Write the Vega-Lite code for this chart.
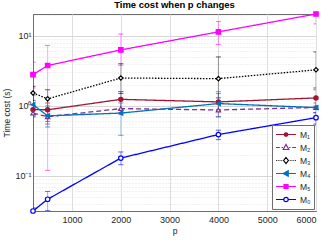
{
  "$schema": "https://vega.github.io/schema/vega-lite/v6.json",
  "width": 283,
  "height": 197,
  "autosize": {"type": "none"},
  "padding": {"left": 33, "top": 14, "right": 14, "bottom": 37},
  "background": "white",
  "title": {"text": "Time cost when p changes", "font": "Liberation Sans", "fontSize": 9.5, "fontWeight": "bold", "color": "#000000", "offset": 0},
  "config": {
    "view": {"stroke": "#6e6e6e", "strokeWidth": 1},
    "axis": {"labelFont": "Liberation Sans", "labelFontSize": 9, "labelColor": "#262626", "titleFont": "Liberation Sans", "titleFontSize": 8.5, "titleFontWeight": "normal", "titleColor": "#262626", "domainColor": "#6e6e6e", "gridColor": "#dedede", "ticks": false},
    "legend": {
      "orient": "bottom-right", "offset": 2,
      "strokeColor": "#6e6e6e", "fillColor": "white", "padding": 3,
      "clipHeight": 13, "rowPadding": 0, "symbolSize": 400, "symbolStrokeWidth": 1.2,
      "labelFont": "Liberation Sans", "labelFontSize": 8.5, "labelColor": "#262626", "labelOffset": 3
    }
  },
  "data": {"values": [
    {"m": "M₁", "p": 200, "t": 0.885, "lo": 0.75, "hi": 1.0},
    {"m": "M₁", "p": 500, "t": 0.88, "lo": 0.6, "hi": 1.1},
    {"m": "M₁", "p": 2000, "t": 1.24, "lo": 0.9, "hi": 1.6},
    {"m": "M₁", "p": 4000, "t": 1.14, "lo": 0.85, "hi": 1.5},
    {"m": "M₁", "p": 6000, "t": 1.3, "lo": 1.0, "hi": 1.7},
    {"m": "M₂", "p": 200, "t": 0.79, "lo": 0.7, "hi": 0.9},
    {"m": "M₂", "p": 500, "t": 0.7, "lo": 0.55, "hi": 0.85},
    {"m": "M₂", "p": 2000, "t": 0.915, "lo": 0.75, "hi": 1.1},
    {"m": "M₂", "p": 4000, "t": 0.875, "lo": 0.7, "hi": 1.05},
    {"m": "M₂", "p": 6000, "t": 0.95, "lo": 0.8, "hi": 1.1},
    {"m": "M₃", "p": 200, "t": 1.53, "lo": 1.2, "hi": 1.9},
    {"m": "M₃", "p": 500, "t": 1.26, "lo": 0.9, "hi": 1.7},
    {"m": "M₃", "p": 2000, "t": 2.5, "lo": 1.5, "hi": 4.0},
    {"m": "M₃", "p": 4000, "t": 2.45, "lo": 1.3, "hi": 5.0},
    {"m": "M₃", "p": 6000, "t": 3.27, "lo": 1.8, "hi": 5.9},
    {"m": "M₄", "p": 200, "t": 1.04, "lo": 0.7, "hi": 1.4},
    {"m": "M₄", "p": 500, "t": 0.72, "lo": 0.5, "hi": 1.0},
    {"m": "M₄", "p": 2000, "t": 0.79, "lo": 0.38, "hi": 1.6},
    {"m": "M₄", "p": 4000, "t": 1.08, "lo": 0.7, "hi": 1.6},
    {"m": "M₄", "p": 6000, "t": 0.945, "lo": 0.53, "hi": 1.3},
    {"m": "M₅", "p": 200, "t": 2.8, "lo": 1.8, "hi": 4.2},
    {"m": "M₅", "p": 500, "t": 3.77, "lo": 0.12, "hi": 7.3},
    {"m": "M₅", "p": 2000, "t": 6.3, "lo": 3.8, "hi": 10.6},
    {"m": "M₅", "p": 4000, "t": 11.4, "lo": 7.5, "hi": 16},
    {"m": "M₅", "p": 6000, "t": 20.5, "lo": 14.8, "hi": 28},
    {"m": "M₀", "p": 200, "t": 0.0316, "lo": 0.03, "hi": 0.035},
    {"m": "M₀", "p": 500, "t": 0.0465, "lo": 0.032, "hi": 0.06},
    {"m": "M₀", "p": 2000, "t": 0.18, "lo": 0.145, "hi": 0.22},
    {"m": "M₀", "p": 4000, "t": 0.39, "lo": 0.33, "hi": 0.45},
    {"m": "M₀", "p": 6000, "t": 0.68, "lo": 0.55, "hi": 0.8}
  ]},
  "resolve": {"axis": {"y": "independent"}},
  "layer": [
    {
      "mark": {"type": "rule", "clip": true, "opacity": 0.35, "strokeWidth": 1},
      "encoding": {
        "x": {"field": "p", "type": "quantitative", "scale": {"domain": [200, 6000], "nice": false, "zero": false}, "axis": {"title": "p", "values": [1000, 2000, 3000, 4000, 5000, 6000], "format": "d", "labelPadding": 4, "titlePadding": 2, "grid": true}},
        "y": {"field": "lo", "type": "quantitative", "scale": {"type": "log", "domain": [0.0316, 20.5], "nice": false, "zero": false}, "axis": {"orient": "left", "title": null, "labels": false, "domain": false, "grid": true, "gridDash": [1, 2], "gridColor": "#e2e2e2", "values": [0.04, 0.05, 0.06, 0.07, 0.08, 0.09, 0.2, 0.3, 0.4, 0.5, 0.6, 0.7, 0.8, 0.9, 2, 3, 4, 5, 6, 7, 8, 9, 20]}},
        "y2": {"field": "hi"},
        "color": {"field": "m", "type": "nominal",
          "scale": {"domain": ["M₁", "M₂", "M₃", "M₄", "M₅", "M₀"], "range": ["#A2142F", "#7E2F8E", "#000000", "#0072BD", "#FF00FF", "#0000FF"]},
          "legend": {
            "title": null,
            "encoding": {"symbols": {
              "shape": {"value": {"expr": "['M-1,0H1M0.17,0A0.17,0.17,0,1,1,-0.17,0A0.17,0.17,0,1,1,0.17,0Z', 'M-1,0H-0.62M-0.45,0H-0.3M0.3,0H0.45M0.62,0H1M0,-0.3L0.28,0.2H-0.28Z', 'M-1,0H-0.92M-0.82,0H-0.74M-0.64,0H-0.56M-0.46,0H-0.38M0.38,0H0.46M0.56,0H0.64M0.74,0H0.82M0.92,0H1M0,-0.3L0.24,0L0,0.3L-0.24,0Z', 'M-1,0H1M-0.28,0L0.22,-0.28V0.28Z', 'M-1,0H1M-0.2,-0.2H0.2V0.2H-0.2Z', 'M-1,0H-0.25M0.25,0H1M0.22,0A0.22,0.22,0,1,1,-0.22,0A0.22,0.22,0,1,1,0.22,0Z'][datum.index]"}},
              "fill": {"value": {"expr": "['#A2142F', 'white', 'white', '#0072BD', '#FF00FF', 'white'][datum.index]"}},
              "fillOpacity": {"value": 1},
              "opacity": {"value": 1},
              "strokeOpacity": {"value": 1},
              "strokeWidth": {"value": 1.2}
            }}
          }
        }
      }
    },
    {
      "mark": {"type": "tick", "clip": true, "opacity": 0.35, "orient": "horizontal", "size": 5, "thickness": 0.1, "filled": false, "strokeWidth": 1},
      "encoding": {
        "x": {"field": "p", "type": "quantitative"},
        "y": {"field": "lo", "type": "quantitative", "axis": null},
        "color": {"field": "m", "type": "nominal"}
      }
    },
    {
      "mark": {"type": "tick", "clip": true, "opacity": 0.35, "orient": "horizontal", "size": 5, "thickness": 0.1, "filled": false, "strokeWidth": 1},
      "encoding": {
        "x": {"field": "p", "type": "quantitative"},
        "y": {"field": "hi", "type": "quantitative", "axis": null},
        "color": {"field": "m", "type": "nominal"}
      }
    },
    {
      "mark": {"type": "line", "clip": true, "strokeWidth": 1.3},
      "encoding": {
        "x": {"field": "p", "type": "quantitative"},
        "y": {"field": "t", "type": "quantitative", "axis": {"orient": "left", "title": "Time cost (s)", "values": [0.1, 1, 10], "labelExpr": "datum.value >= 5 ? '10¹' : datum.value >= 0.5 ? '10⁰' : '10⁻¹'", "labelPadding": 2, "titlePadding": 3, "grid": true, "gridColor": "#d6d6d6"}},
        "color": {"field": "m", "type": "nominal"},
        "strokeDash": {"field": "m", "type": "nominal", "scale": {"domain": ["M₀", "M₅", "M₄", "M₃", "M₂", "M₁"], "range": [[1, 0], [1, 0], [1, 0], [1.5, 1.5], [5, 3], [1, 0]]}, "legend": null}
      }
    },
    {
      "mark": {"type": "point", "filled": false, "strokeWidth": 1.2, "opacity": 1},
      "encoding": {
        "x": {"field": "p", "type": "quantitative"},
        "y": {"field": "t", "type": "quantitative", "axis": null},
        "shape": {"field": "m", "type": "nominal", "scale": {"domain": ["M₀", "M₅", "M₄", "M₃", "M₂", "M₁"], "range": ["circle", "square", "triangle-left", "diamond", "triangle-up", "circle"]}, "legend": null},
        "stroke": {"field": "m", "type": "nominal", "scale": {"domain": ["M₀", "M₅", "M₄", "M₃", "M₂", "M₁"], "range": ["#0000FF", "#FF00FF", "#0072BD", "#000000", "#7E2F8E", "#A2142F"]}, "legend": null},
        "fill": {"field": "m", "type": "nominal", "scale": {"domain": ["M₀", "M₅", "M₄", "M₃", "M₂", "M₁"], "range": ["white", "#FF00FF", "#0072BD", "white", "white", "#A2142F"]}, "legend": null},
        "size": {"field": "m", "type": "ordinal", "scale": {"domain": ["M₀", "M₅", "M₄", "M₃", "M₂", "M₁"], "range": [20, 18, 28, 26, 26, 10]}, "legend": null}
      }
    }
  ]
}
